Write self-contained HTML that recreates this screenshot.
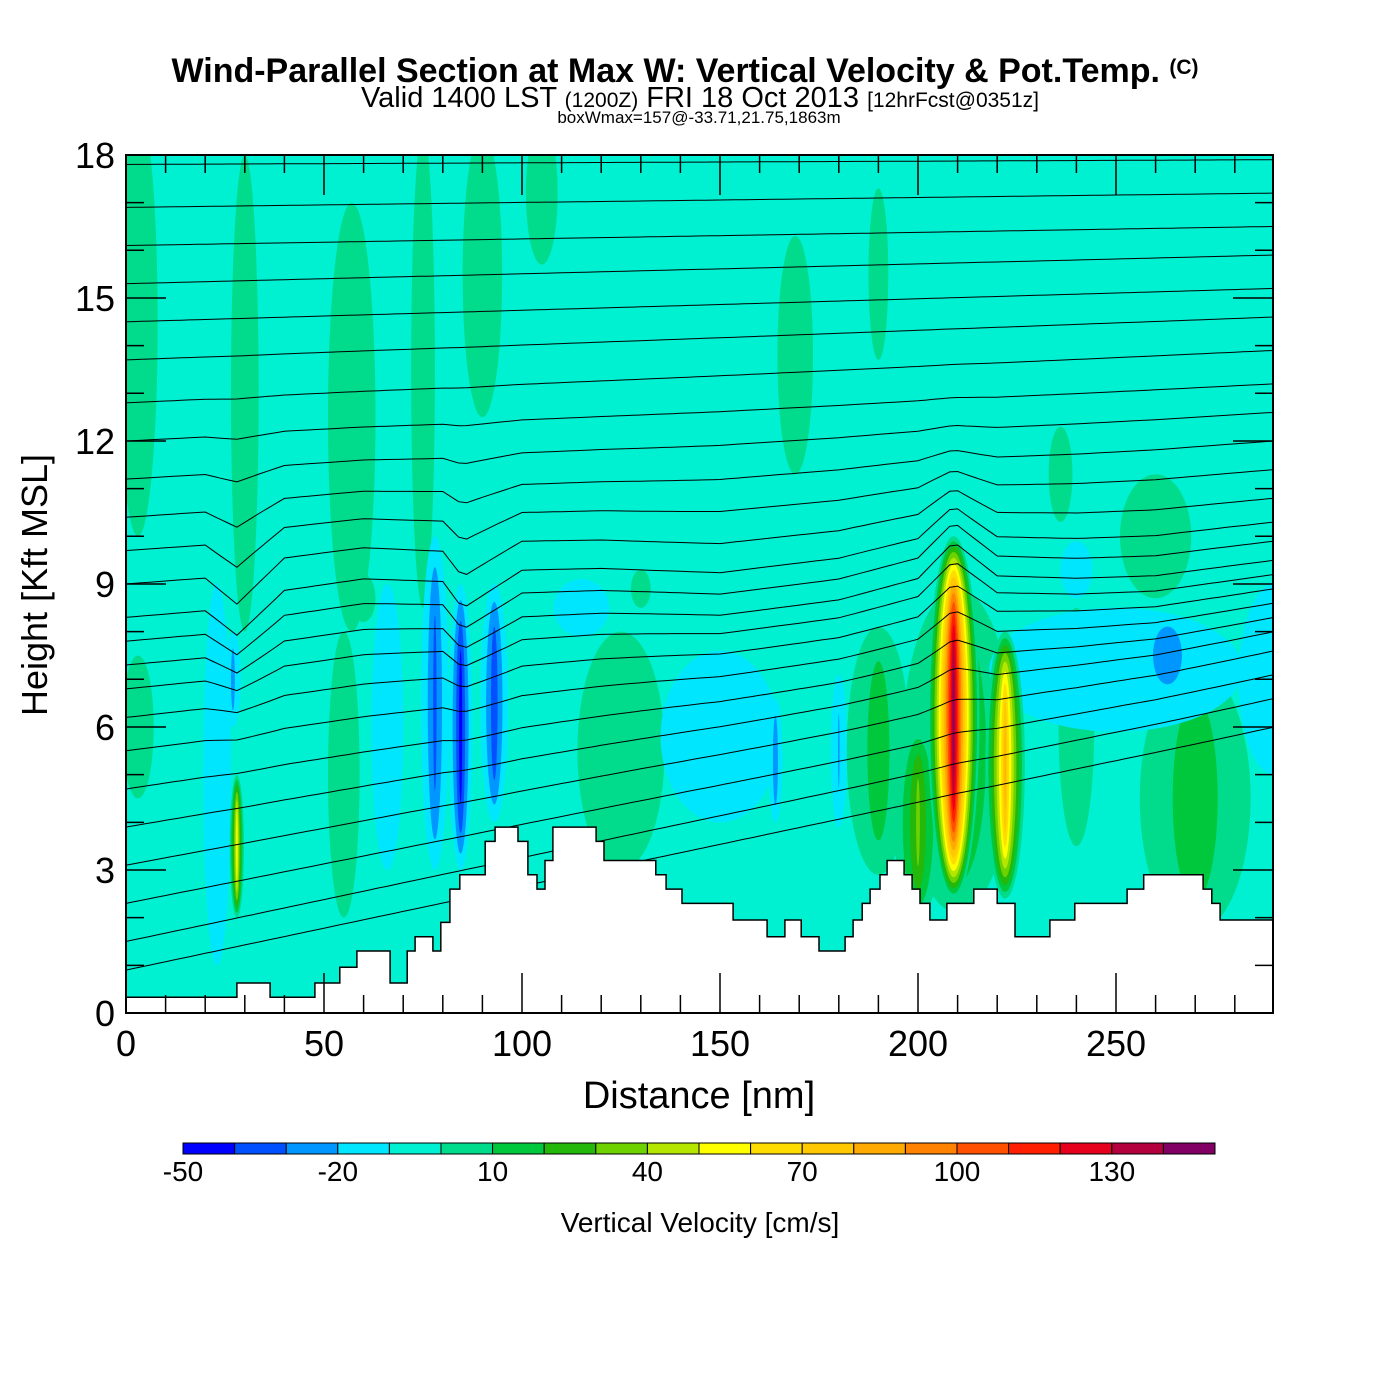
<!DOCTYPE html>
<html><head><meta charset="utf-8"><style>
html,body{margin:0;padding:0;background:#fff;}
svg{display:block;font-family:"Liberation Sans",Arial,sans-serif;}
</style></head><body>
<svg id="chart" width="1400" height="1400" viewBox="0 0 1400 1400" xmlns="http://www.w3.org/2000/svg">
<rect x="0" y="0" width="1400" height="1400" fill="#fff"/>
<text x="685" y="82" text-anchor="middle" font-size="34" font-weight="bold">Wind-Parallel Section at Max W: Vertical Velocity &amp; Pot.Temp. <tspan font-size="21" dy="-8">(C)</tspan></text>
<text x="700" y="107" text-anchor="middle" font-size="29">Valid 1400 LST <tspan font-size="21">(1200Z)</tspan> FRI 18 Oct 2013 <tspan font-size="21">[12hrFcst@0351z]</tspan></text>
<text x="699" y="123" text-anchor="middle" font-size="17">boxWmax=157@-33.71,21.75,1863m</text>
<defs><clipPath id="plotclip"><rect x="126" y="155" width="1147" height="858"/></clipPath></defs>
<g id="field" clip-path="url(#plotclip)"></g>
<g id="contours" clip-path="url(#plotclip)"></g>
<g id="terrain" clip-path="url(#plotclip)"></g>
<rect x="126" y="155" width="1147" height="858" fill="none" stroke="#000" stroke-width="2"/>
<g id="axes"></g>
<text x="699" y="1108" text-anchor="middle" font-size="38">Distance [nm]</text>
<text transform="translate(47,585) rotate(-90)" text-anchor="middle" font-size="36">Height [Kft MSL]</text>
<g id="colorbar"></g>
<text x="700" y="1232" text-anchor="middle" font-size="28">Vertical Velocity [cm/s]</text>
</svg>
<script>
var NS="http://www.w3.org/2000/svg";
var levels=[-50,-40,-30,-20,-10,0,10,20,30,40,50,60,70,80,90,100,110,120,130,140,150];
var boxColors=["#0000ff","#0050ff","#0096ff","#00e6ff","#00f0d2","#00dc8c","#00c83c","#23b80a","#6ed200","#b4e600","#ffff00","#ffdc00","#ffc800","#ffaa00","#ff8200","#ff5000","#ff1e00","#e6001e","#b4003c","#820064"];
var cbLabels=[-50,-20,10,40,70,100,130];
var xTicks=[0,50,100,150,200,250];
var yTicks=[0,3,6,9,12,15,18];
// blobs: distance nm, height kft, half-width nm, half-height kft, peak cm/s
var blobNm=[3,30,57,75,90,105,169,190,260,236,3,55,125,23,66,115,150,164,27,78,84.5,93,28,210,190,200,240,270,250,263,290,180,209,222,60,130,240];
var blobKft=[14.5,13,12.5,13.5,15.5,17.2,13.8,15.5,10,11.3,6,5,5.5,5,6,8.5,5.8,5.3,7,6.5,6,6.5,3.5,5.5,5.5,4,6,4.5,7.2,7.5,7,5.5,6.2,5.2,8.7,8.9,9.3];
var blobRx=[5,3.5,6,3,5,4,4.5,2.5,9,3,4,4,11,3.5,4,7,15,1.8,2,3.5,3,3.5,1.8,14,8,6,4.5,14,32,9,9,2,6.5,5,3,2.5,4];
var blobRy=[4.5,5,4.5,5,3,1.5,2.5,1.8,1.3,1,1.5,3,2.5,4,3,0.6,1.8,1.3,1,3.5,3,2.5,1.5,3.4,2.6,2,2.5,2.8,1.3,0.8,2,1.6,3.8,2.8,0.5,0.4,0.6];
var blobPeak=[5,5,5,5,5,5,5,5,5,5,5,5,5,-15,-15,-15,-15,-28,-25,-35,-48,-40,60,25,18,35,8,20,-15,-30,-15,-22,148,85,5,5,-15];
// terrain steps
var terrainX=[0,28,36.4,47.7,54,58.3,66.7,71,73,77.5,79.5,81.8,84.3,90.7,93.2,99,101.5,103.8,105.8,107.8,118.7,120.7,133.8,136.4,140.4,153.3,161.9,166.4,170.5,175,181.6,183.6,185.9,187.9,190.4,192.2,196.5,198.5,200.5,203,207.3,214.1,220,224.5,233.3,239.6,252.8,257,272,274.2,276.3,290];
var terrainH=[0.33,0.63,0.33,0.63,0.96,1.3,0.63,1.3,1.6,1.3,1.9,2.6,2.9,3.6,3.9,3.6,2.9,2.6,3.2,3.9,3.6,3.2,2.9,2.6,2.3,1.95,1.6,1.95,1.6,1.3,1.6,1.95,2.3,2.6,2.9,3.2,2.9,2.6,2.3,1.95,2.3,2.6,2.3,1.6,1.95,2.3,2.6,2.9,2.6,2.3,1.95,1.95];
// theta contours: heights at left and right edges
var thetaLeft=[17.8,16.9,16.1,15.3,14.5,13.7,12.8,12.0,11.2,10.4,9.7,9.0,8.3,7.8,7.3,6.8,6.2,5.5,4.7,3.9,3.1,2.3,1.5,0.9];
var thetaRight=[17.9,17.2,16.5,15.9,15.2,14.6,13.9,13.2,12.6,12.0,11.4,10.8,10.3,9.9,9.5,9.2,8.9,8.6,8.3,8.0,7.6,7.1,6.6,6.0];
var bumpNm=[0,20,28,40,60,80,85,100,120,150,180,200,209,220,240,260,290];
var bumpKft=[0,0,-0.6,0.3,0.4,0.2,-0.4,0.3,0.2,-0.1,0,0.3,1.0,0.2,0,-0.1,0];

function X(nm){return 126+nm*3.96;}
function Y(k){return 1013-k*47.67;}
function boxIndex(v){for(var i=0;i<20;i++){if(v>=levels[i]&&v<levels[i+1])return i;}return 19;}

var field=document.getElementById('field');
var bg=document.createElementNS(NS,'rect');


bg.setAttribute('x',126);bg.setAttribute('y',155);bg.setAttribute('width',1147);bg.setAttribute('height',858);
bg.setAttribute('fill',boxColors[4]);
field.appendChild(bg);
var base=-5;
for(var b=0;b<blobNm.length;b++){
  var p=blobPeak[b];
  var bounds=[];
  if(p>base){for(var i=0;i<levels.length;i++){if(levels[i]>base&&levels[i]<p)bounds.push(levels[i]);}}
  else {for(var i=levels.length-1;i>=0;i--){if(levels[i]<base&&levels[i]>p)bounds.push(levels[i]);}}
  var L0=bounds.length?bounds[0]:base;
  for(var j=0;j<bounds.length;j++){
    var L=bounds[j];
    var f=(p-L)/(p-L0);
    var col=p>base?boxColors[boxIndex(L+1)]:boxColors[boxIndex(L-1)];
    var e=document.createElementNS(NS,'ellipse');
    
    
    e.setAttribute('cx',X(blobNm[b]));e.setAttribute('cy',Y(blobKft[b]));
    e.setAttribute('rx',blobRx[b]*3.96*Math.pow(f,1.3));e.setAttribute('ry',blobRy[b]*47.67*Math.pow(f,0.4));
    e.setAttribute('fill',col);
    field.appendChild(e);
  }
}
// contours
function interp(xs,ys,x){for(var i=0;i<xs.length-1;i++){if(x>=xs[i]&&x<=xs[i+1]){var t=(x-xs[i])/(xs[i+1]-xs[i]);return ys[i]+t*(ys[i+1]-ys[i]);}}return ys[ys.length-1];}
var cg=document.getElementById('contours');
for(var c=0;c<thetaLeft.length;c++){
  var d='';
  for(var nm=0;nm<=290;nm+=2){
    var h=thetaLeft[c]+(thetaRight[c]-thetaLeft[c])*nm/290;
    var w=Math.exp(-Math.pow((h-9)/2.2,2));
    h+=interp(bumpNm,bumpKft,nm)*w;
    d+=(nm===0?'M':'L')+X(nm).toFixed(1)+','+Y(h).toFixed(1);
  }
  var pth=document.createElementNS(NS,'path');
  
  
  pth.setAttribute('d',d);pth.setAttribute('fill','none');pth.setAttribute('stroke','#000');pth.setAttribute('stroke-width','1');
  cg.appendChild(pth);
}
// terrain
var td='M'+X(0)+','+Y(-1);
for(var i=0;i<terrainX.length-1;i++){td+='L'+X(terrainX[i]).toFixed(1)+','+Y(terrainH[i]).toFixed(1)+'L'+X(terrainX[i+1]).toFixed(1)+','+Y(terrainH[i]).toFixed(1);}
td+='L'+X(290)+','+Y(-1)+'Z';
var tp=document.createElementNS(NS,'path');


tp.setAttribute('d',td);tp.setAttribute('fill','#fff');tp.setAttribute('stroke','#000');tp.setAttribute('stroke-width','1.5');
document.getElementById('terrain').appendChild(tp);
// axes
var ax=document.getElementById('axes');
function line(x1,y1,x2,y2,name){var l=document.createElementNS(NS,'line');l.setAttribute('x1',x1);l.setAttribute('y1',y1);l.setAttribute('x2',x2);l.setAttribute('y2',y2);l.setAttribute('stroke','#000');l.setAttribute('stroke-width','1.5');


ax.appendChild(l);}
function txt(x,y,s,anchor,size,name){var t=document.createElementNS(NS,'text');t.setAttribute('x',x);t.setAttribute('y',y);t.setAttribute('text-anchor',anchor);t.setAttribute('font-size',size);t.textContent=s;


ax.appendChild(t);}
for(var k=0;k<=18;k++){var len=(k%3===0)?40:18;line(126,Y(k),126+len,Y(k),'y-tick');line(1273-len,Y(k),1273,Y(k),'y-tick');}
for(var n=0;n<=280;n+=10){var len2=(n%50===0)?40:18;line(X(n),1013,X(n),1013-len2,'x-tick');line(X(n),155,X(n),155+len2,'x-tick');}
for(var i=0;i<yTicks.length;i++){txt(115,Y(yTicks[i])+13,String(yTicks[i]),'end',36,'y-tick-label');}
for(var i=0;i<xTicks.length;i++){txt(X(xTicks[i]),1056,String(xTicks[i]),'middle',36,'x-tick-label');}
// colorbar
var cb=document.getElementById('colorbar');
var bw=(1215-183)/20;
for(var i=0;i<20;i++){var r=document.createElementNS(NS,'rect');


r.setAttribute('x',183+i*bw);r.setAttribute('y',1143);r.setAttribute('width',bw);r.setAttribute('height',11);r.setAttribute('fill',boxColors[i]);r.setAttribute('stroke','#000');r.setAttribute('stroke-width','1');cb.appendChild(r);}
for(var i=0;i<cbLabels.length;i++){var idx=levels.indexOf(cbLabels[i]);var t=document.createElementNS(NS,'text');


t.setAttribute('x',183+idx*bw);t.setAttribute('y',1181);t.setAttribute('text-anchor','middle');t.setAttribute('font-size','28');t.textContent=String(cbLabels[i]);cb.appendChild(t);}
</script>
</body></html>
